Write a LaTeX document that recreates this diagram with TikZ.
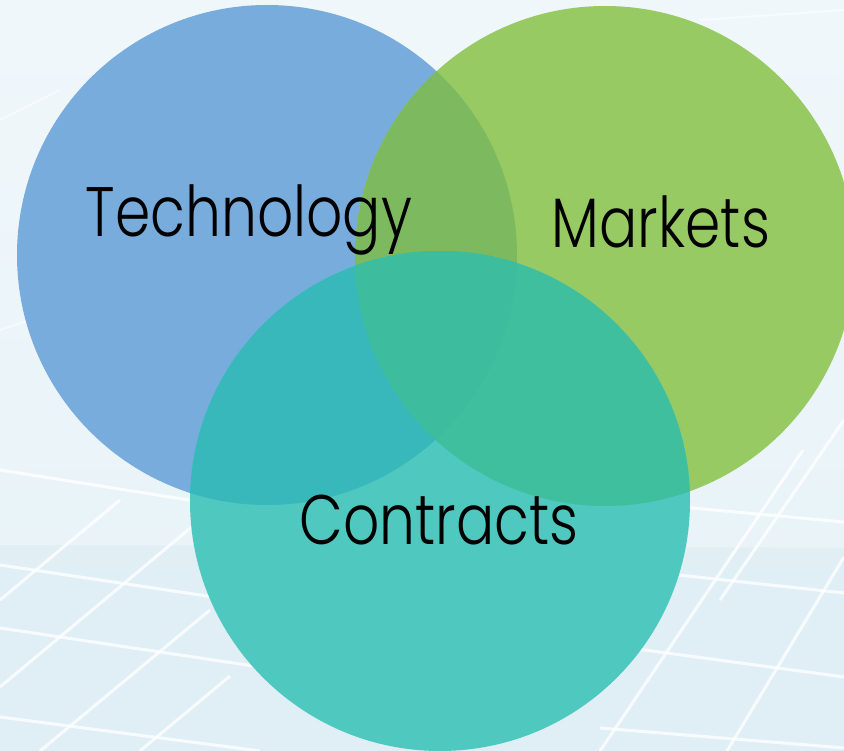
\documentclass[tikz,border=0pt]{standalone}
\usepackage{fontspec}
\setmainfont{Poppins}[UprightFont=* Light]
\usepackage{graphicx}
\definecolor{bgc}{HTML}{E6F2F7}
\definecolor{bgtop}{HTML}{F0F7FB}
\definecolor{cell}{HTML}{DCEDF4}
\definecolor{cblue}{HTML}{78ACDC}
\definecolor{cgreen}{HTML}{98CA64}
\definecolor{cteal}{HTML}{4FC8BF}
\definecolor{cbg}{HTML}{7DBA5F}
\definecolor{cbt}{HTML}{38B8BB}
\definecolor{cgt}{HTML}{3FBF9E}
\definecolor{call}{HTML}{3DBD9E}
\tikzset{
  lbl/.style={anchor=base, inner sep=0pt, font=\fontsize{70}{80}\selectfont, text=black},
  grid line/.style={white, line width=3pt, opacity=0.8},
}
\begin{document}
\begin{tikzpicture}[x=1pt,y=-1pt]
\useasboundingbox (0,0) rectangle (844,751);
% background
\shade[top color=bgtop, bottom color=bgc] (0,0) rectangle (844,751);
\begin{scope}
\clip (0,0) rectangle (844,751);
% faint panel cells
\fill[cell, opacity=0.6] (0,545) -- (844,548) -- (844,751) -- (0,751) -- cycle;
% near-horizontal lines, left
\draw[grid line] (0,470) -- (220,505);
\draw[grid line] (0,565) -- (220,598);
\draw[grid line] (0,628) -- (300,673);
\draw[grid line] (0,717) -- (260,751);
% near-horizontal lines, right
\draw[grid line] (660,505) -- (844,522);
\draw[grid line] (660,573) -- (844,593);
\draw[grid line] (630,648) -- (844,677);
\draw[grid line] (600,728) -- (844,748);
% diagonals, left
\draw[grid line] (0,600) -- (120,500);
\draw[grid line] (0,687) -- (200,520);
\draw[grid line] (40,751) -- (210,610);
\draw[grid line] (140,751) -- (230,676);
% diagonals, right
\draw[grid line] (803,450) -- (600,751);
\draw[grid line] (844,557) -- (727,751);
\draw[grid line] (844,420) -- (720,600);
% faint upper lines
\draw[white, line width=2pt, opacity=0.5] (0,120) -- (60,90);
\draw[white, line width=2pt, opacity=0.5] (0,330) -- (30,320);
\draw[white, line width=2pt, opacity=0.5] (700,20) -- (844,10);
\end{scope}
% circles
\coordinate (B) at (267,255);
\coordinate (G) at (605,256);
\coordinate (T) at (440,501);
\fill[cblue] (B) circle (250pt);
\fill[cgreen] (G) circle (250pt);
\fill[cteal] (T) circle (250pt);
\begin{scope}
\clip (B) circle (250pt);
\fill[cbg] (G) circle (250pt);
\fill[cbt] (T) circle (250pt);
\end{scope}
\begin{scope}
\clip (G) circle (250pt);
\fill[cgt] (T) circle (250pt);
\clip (B) circle (250pt);
\fill[call] (T) circle (250pt);
\end{scope}
% labels
\node[lbl] (tech) at (249,237) {\scalebox{0.81}[1]{Technology}};
\node[lbl] (mark) at (661,248) {\scalebox{0.81}[1]{Markets}};
\node[lbl] (cont) at (439,544) {\scalebox{0.81}[1]{Contracts}};
\end{tikzpicture}
\end{document}
